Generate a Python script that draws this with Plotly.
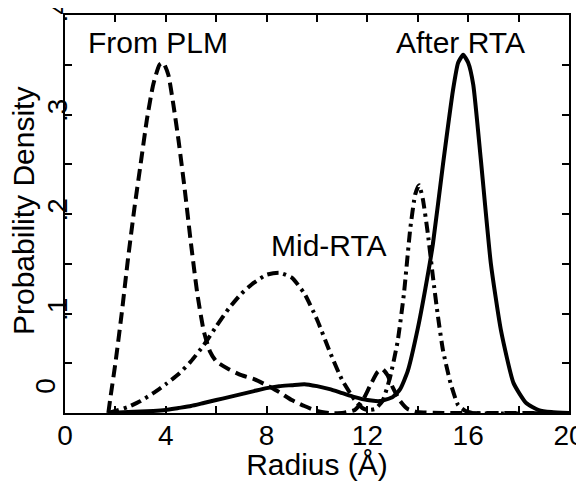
import plotly.graph_objects as go

# From PLM (dashed)
plm_x = [1.72, 1.8, 2.0, 2.25, 2.5, 2.75, 3.0, 3.25, 3.5, 3.75, 3.9, 4.1, 4.3, 4.5, 4.75, 5.0,
         5.25, 5.5, 5.75, 6.0, 6.5, 7.0, 7.5, 8.0, 8.5, 9.0, 9.5, 10.0, 10.5, 11.0, 11.5, 11.8,
         12.1, 12.4, 12.6, 12.8, 13.0, 13.3, 13.6, 14.0, 15.0, 20.0]
plm_y = [0.0, 0.015, 0.05, 0.1, 0.155, 0.205, 0.25, 0.295, 0.33, 0.35, 0.352, 0.34, 0.31, 0.275,
         0.225, 0.17, 0.12, 0.083, 0.062, 0.052, 0.044, 0.038, 0.034, 0.028, 0.021, 0.013, 0.007,
         0.002, 0.0, 0.0, 0.003, 0.012, 0.027, 0.041, 0.044, 0.038, 0.026, 0.012, 0.004, 0.001,
         0.0, 0.0]

# Mid-RTA (dash-dot)
mid_x = [1.72, 2.0, 2.5, 3.0, 3.5, 4.0, 4.5, 5.0, 5.5, 6.0, 6.5, 7.0, 7.5, 8.0, 8.5, 9.0, 9.5,
         10.0, 10.5, 11.0, 11.5, 11.8, 12.0, 12.3, 12.6, 12.9, 13.2, 13.45, 13.7, 13.9, 14.05,
         14.2, 14.4, 14.6, 14.8, 15.0, 15.3, 15.6, 15.9, 16.2, 20.0]
mid_y = [0.0, 0.002, 0.006, 0.012, 0.02, 0.029, 0.039, 0.052, 0.068, 0.087, 0.105, 0.12, 0.131,
         0.139, 0.141, 0.136, 0.12, 0.094, 0.062, 0.033, 0.013, 0.005, 0.003, 0.004, 0.012, 0.036,
         0.072, 0.12, 0.185, 0.22, 0.229, 0.215, 0.18, 0.137, 0.097, 0.063, 0.03, 0.008, 0.002,
         0.0, 0.0]

# After RTA (solid)
after_x = [1.72, 2.5, 3.0, 3.5, 4.0, 4.5, 5.0, 5.5, 6.0, 6.5, 7.0, 7.5, 8.0, 8.5, 9.0, 9.5, 10.0,
           10.5, 11.0, 11.5, 12.0, 12.5, 13.0, 13.3, 13.6, 14.0, 14.3, 14.6, 15.0, 15.4, 15.6,
           15.8, 16.0, 16.2, 16.5, 16.9, 17.3, 17.8, 18.3, 18.8, 19.3, 20.0]
after_y = [0.0, 0.001, 0.0015, 0.002, 0.003, 0.005, 0.007, 0.01, 0.013, 0.016, 0.019, 0.022,
           0.025, 0.027, 0.028, 0.029, 0.027, 0.024, 0.02, 0.016, 0.013, 0.012, 0.016, 0.024,
           0.042, 0.085, 0.125, 0.17, 0.25, 0.325, 0.352, 0.36, 0.352, 0.33, 0.255, 0.15, 0.083,
           0.03, 0.01, 0.003, 0.001, 0.0]

x_ticks = [0, 2, 4, 6, 8, 10, 12, 14, 16, 18, 20]
x_labels = ["0", "", "4", "", "8", "", "12", "", "16", "", "20"]
y_ticks = [0, 0.05, 0.1, 0.15, 0.2, 0.25, 0.3, 0.35, 0.4]
y_labels = ["", "", ".1", "", ".2", "", ".3", "", ".4"]  # "0" drawn a bit higher, below

font = "Liberation Sans, Arial, sans-serif"

fig = go.Figure()
fig.add_trace(go.Scatter(x=plm_x, y=plm_y, mode="lines",
                         line=dict(color="black", width=4, dash="12px,6px", shape="spline", smoothing=0.5)))
fig.add_trace(go.Scatter(x=mid_x, y=mid_y, mode="lines",
                         line=dict(color="black", width=4, dash="11px,5px,3px,5px", shape="spline", smoothing=0.5)))
fig.add_trace(go.Scatter(x=after_x, y=after_y, mode="lines",
                         line=dict(color="black", width=4, shape="spline", smoothing=0.5)))

# curve labels
fig.add_annotation(x=3.7, y=0.372, text="From PLM", showarrow=False, xanchor="center", yanchor="middle")
fig.add_annotation(x=15.7, y=0.372, text="After RTA", showarrow=False, xanchor="center", yanchor="middle")
fig.add_annotation(x=10.48, y=0.168, text="Mid-RTA", showarrow=False, xanchor="center", yanchor="middle")
# y "0" label sits above the corner
fig.add_annotation(xref="paper", x=0, y=0.027, text="0", textangle=-90, showarrow=False,
                   xanchor="right", yanchor="middle", xshift=-2, font=dict(size=28))
# y title placed by hand so it sits just left of the rotated tick labels
fig.add_annotation(xref="paper", yref="paper", x=0, y=0.5, text="Probability Density", textangle=-90,
                   showarrow=False, xanchor="center", yanchor="middle", xshift=-42, yshift=3)

# page body has an 8px margin, so the figure is 8px smaller and margins 8px less
fig.update_layout(
    width=576, height=473,
    margin=dict(l=57, r=15, t=7, b=68, autoexpand=False),
    paper_bgcolor="white", plot_bgcolor="white",
    showlegend=False,
    font=dict(family=font, size=30, color="black"),
)
fig.update_xaxes(range=[0, 20], tickvals=x_ticks, ticktext=x_labels, ticks="inside", ticklen=7,
                 tickwidth=1.5, tickcolor="black", showline=True, linecolor="black", linewidth=2,
                 mirror="ticks", showgrid=False, zeroline=False, automargin=False,
                 ticklabeloverflow="allow", ticklabelstandoff=-4, tickfont=dict(size=28),
                 title=dict(text="Radius (Å)", font=dict(size=30), standoff=6))
fig.update_yaxes(range=[0, 0.4], tickvals=y_ticks, ticktext=y_labels, ticks="inside", ticklen=7,
                 tickwidth=1.5, tickcolor="black", showline=True, linecolor="black", linewidth=2,
                 mirror="ticks", showgrid=False, zeroline=False, automargin=False, tickangle=-90,
                 ticklabeloverflow="allow", ticklabelstandoff=-15, tickfont=dict(size=28))

fig.write_html("out.html")
